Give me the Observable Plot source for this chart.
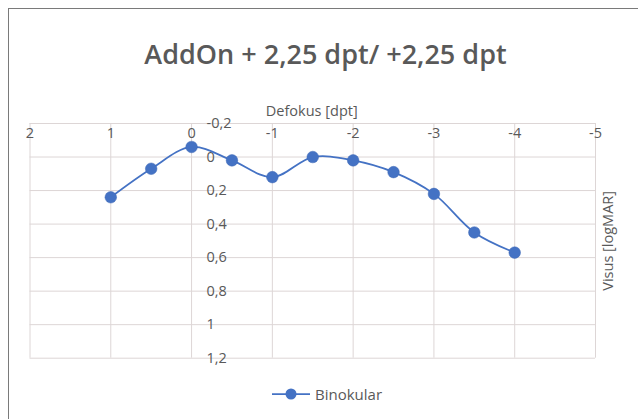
<!DOCTYPE html>
<html>
<head>
<meta charset="utf-8">
<script src="https://cdn.jsdelivr.net/npm/d3@7"></script>
<script src="https://cdn.jsdelivr.net/npm/@observablehq/plot@0.6"></script>
<style>
  html, body { margin: 0; padding: 0; background: #fff; }
  #wrap { position: relative; width: 638px; height: 419px; overflow: hidden; font-family: "Open Sans", sans-serif; }
  #border { position: absolute; left: 8px; top: 8px; width: 700px; height: 500px; border-left: 1.5px solid #7a7a7a; border-top: 1.5px solid #7a7a7a; }
  #title { position: absolute; left: 0; width: 651px; top: 35px; text-align: center; font-size: 27px; font-weight: 600; color: #595959; white-space: nowrap; }
  #legend { position: absolute; left: 271px; top: 384px; display: flex; align-items: center; font-size: 15px; color: #595959; }
  #legend span { margin-left: 4px; }
  #chart { position: absolute; left: 0; top: 0; }
</style>
</head>
<body>
<div id="wrap">
  <div id="border"></div>
  <div id="chart"></div>
  <div id="title">AddOn + 2,25 dpt/ +2,25 dpt</div>
  <div id="legend"><svg width="40" height="12"><line x1="1" y1="6" x2="39" y2="6" stroke="#4472C4" stroke-width="1.75"/><circle cx="20" cy="6" r="5.5" fill="#4472C4"/></svg><span>Binokular</span></div>
</div>
<script>
const defocus = [1, 0.5, 0, -0.5, -1, -1.5, -2, -2.5, -3, -3.5, -4];
const visus   = [0.24, 0.07, -0.06, 0.02, 0.12, 0.0, 0.02, 0.09, 0.22, 0.45, 0.57];
const xTicks = [2, 1, 0, -1, -2, -3, -4, -5];
const xTickLabels = ["2", "1", "0", "-1", "-2", "-3", "-4", "-5"];
const yTicks = [-0.2, 0, 0.2, 0.4, 0.6, 0.8, 1, 1.2];
const yTickLabels = ["-0,2", "0", "0,2", "0,4", "0,6", "0,8", "1", "1,2"];
const xLabel = "Defokus [dpt]";
const yLabel = "Visus [logMAR]";

const data = defocus.map((d, i) => ({x: d, y: visus[i]}));
const xt = xTicks.map((v, i) => ({v, label: xTickLabels[i]}));
const yt = yTicks.map((v, i) => ({v, label: yTickLabels[i]}));

const grid = "#ddd6d6";
const textColor = "#595959";

const plot = Plot.plot({
  width: 638,
  height: 419,
  marginLeft: 29.5,
  marginRight: 43,
  marginTop: 123,
  marginBottom: 61.3,
  style: {fontFamily: "'Open Sans', sans-serif", background: "transparent", overflow: "visible"},
  x: {domain: [2, -5], range: [29.5, 595], axis: null},
  y: {domain: [-0.2, 1.2], range: [123, 357.7], axis: null},
  marks: [
    Plot.ruleY(yt, {y: "v", x1: 2, x2: -5, stroke: grid, strokeWidth: 1}),
    Plot.ruleX(xt, {x: "v", y1: -0.2, y2: 1.2, stroke: grid, strokeWidth: 1}),
    Plot.text(xt, {x: "v", y: -0.2, text: "label", dy: 10, fill: textColor, fontSize: 14.5}),
    Plot.text(yt, {x: 0, y: "v", text: "label", dx: 15, textAnchor: "start", fill: textColor, fontSize: 14.5}),
    Plot.line(data, {x: "x", y: "y", curve: "catmull-rom", stroke: "#4472C4", strokeWidth: 1.75}),
    Plot.dot(data, {x: "x", y: "y", r: 5.8, fill: "#4472C4", stroke: "#3e68b5", strokeWidth: 0.5}),
    Plot.text([xLabel], {frameAnchor: "top", text: d => d, lineAnchor: "middle", dx: -1, dy: -12, fill: textColor, fontSize: 14.5}),
    Plot.text([yLabel], {frameAnchor: "right", text: d => d, rotate: -90, textAnchor: "middle", lineAnchor: "middle", dx: 13, fill: textColor, fontSize: 14.5})
  ]
});
document.getElementById("chart").appendChild(plot);
</script>
</body>
</html>
